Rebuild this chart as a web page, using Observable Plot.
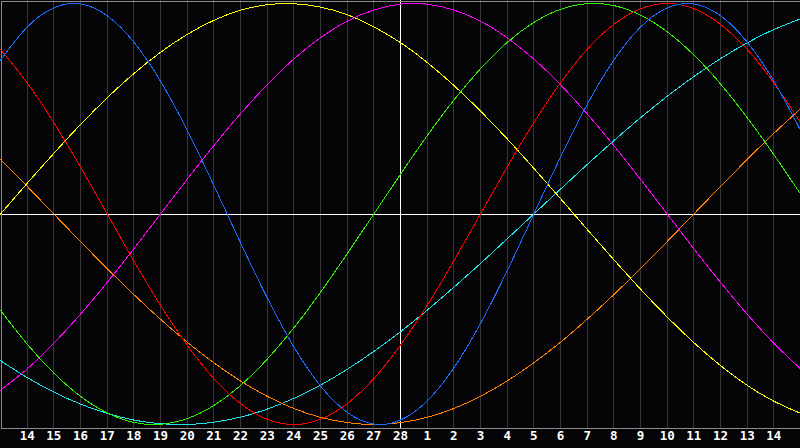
<!DOCTYPE html>
<html><head><meta charset="utf-8">
<script src="https://cdn.jsdelivr.net/npm/d3@7"></script>
<script src="https://cdn.jsdelivr.net/npm/@observablehq/plot@0.6"></script>
<style>
html,body{margin:0;padding:0;background:#050508;}
#chart svg{display:block}
</style></head><body><div id="chart"></div>
<script>
// Day offsets relative to today (28th); values read once per day from -15 to +15
const firstOffset = -15;
const tickOffsets = [-14,-13,-12,-11,-10,-9,-8,-7,-6,-5,-4,-3,-2,-1,0,1,2,3,4,5,6,7,8,9,10,11,12,13,14];
const dayLabels = ["14","15","16","17","18","19","20","21","22","23","24","25","26","27","28","1","2","3","4","5","6","7","8","9","10","11","12","13","14"];

const cycle23 = [0.731,0.888,0.979,0.998,0.942,0.817,0.631,0.398,0.136,-0.136,-0.398,-0.631,-0.817,-0.942,-0.998,-0.979,-0.888,-0.731,-0.520,-0.270,0,0.270,0.520,0.731,0.888,0.979,0.998,0.942,0.817,0.631,0.398];
const cycle28 = [0.782,0.623,0.434,0.223,0,-0.223,-0.434,-0.623,-0.782,-0.901,-0.975,-1,-0.975,-0.901,-0.782,-0.623,-0.434,-0.223,0,0.223,0.434,0.623,0.782,0.901,0.975,1,0.975,0.901,0.782,0.623,0.434];
const cycle33 = [-0.458,-0.618,-0.756,-0.866,-0.945,-0.990,-0.999,-0.972,-0.910,-0.815,-0.690,-0.541,-0.372,-0.189,0,0.189,0.372,0.541,0.690,0.815,0.910,0.972,0.999,0.990,0.945,0.866,0.756,0.618,0.458,0.282,0.095];
const cycle38 = [-0.837,-0.736,-0.614,-0.476,-0.325,-0.165,0,0.165,0.325,0.476,0.614,0.736,0.837,0.916,0.969,0.997,0.997,0.969,0.916,0.837,0.736,0.614,0.476,0.325,0.165,0,-0.165,-0.325,-0.476,-0.614,-0.736];
const cycle43 = [0,0.146,0.288,0.425,0.552,0.667,0.768,0.853,0.920,0.968,0.994,0.999,0.983,0.947,0.889,0.814,0.720,0.611,0.489,0.357,0.217,0.073,-0.073,-0.217,-0.357,-0.489,-0.611,-0.720,-0.814,-0.889,-0.947];
const cycle48 = [0.259,0.131,0,-0.131,-0.259,-0.383,-0.500,-0.609,-0.707,-0.793,-0.866,-0.924,-0.966,-0.991,-1,-0.991,-0.966,-0.924,-0.866,-0.793,-0.707,-0.609,-0.500,-0.383,-0.259,-0.131,0,0.131,0.259,0.383,0.500];
const cycle53 = [-0.697,-0.777,-0.846,-0.903,-0.947,-0.979,-0.996,-1.000,-0.989,-0.965,-0.927,-0.876,-0.813,-0.738,-0.653,-0.559,-0.457,-0.348,-0.235,-0.118,0,0.118,0.235,0.348,0.457,0.559,0.653,0.738,0.813,0.876,0.927];

const seriesNames = ["53","48","43","38","33","28","23"];
const seriesValues = [cycle53, cycle48, cycle43, cycle38, cycle33, cycle28, cycle23];
const seriesColors = ["#22e4e4","#ff8000","#ffff00","#ff00ff","#33ee00","#ff0000","#1a6cff"];

const rows = seriesNames.flatMap((name, s) =>
  seriesValues[s].map((v, i) => ({t: firstOffset + i, v, name})));

const chart = Plot.plot({
  width: 800,
  height: 448,
  marginTop: 0, marginLeft: 0, marginRight: 0, marginBottom: 20,
  style: {background: "#050508", color: "white", overflow: "visible"},
  x: {domain: [-15, 15], axis: null},
  y: {domain: [-1, 1], range: [424, 3], axis: null},
  color: {domain: seriesNames, range: seriesColors},
  marks: [
    Plot.ruleX(tickOffsets, {stroke: "#363636", strokeWidth: 1, shapeRendering: "crispEdges"}),
    Plot.ruleX([0], {stroke: "#ffffff", strokeWidth: 1, shapeRendering: "crispEdges"}),
    Plot.ruleY([0], {stroke: "#ffffff", strokeWidth: 1, shapeRendering: "crispEdges"}),
    Plot.frame({stroke: "#8c8c8c", inset: 0.5, shapeRendering: "crispEdges"}),
    Plot.line(rows, {x: "t", y: "v", z: "name", stroke: "name", strokeWidth: 1, curve: "natural", shapeRendering: "crispEdges"}),
    Plot.text(tickOffsets, {
      x: d => d,
      text: (d, i) => dayLabels[i],
      frameAnchor: "bottom",
      dy: 11,
      fill: "white",
      fontSize: 12.5,
      fontWeight: "bold",
      fontFamily: "DejaVu Sans Mono"
    })
  ]
});
document.getElementById("chart").append(chart);
</script>
</body></html>
